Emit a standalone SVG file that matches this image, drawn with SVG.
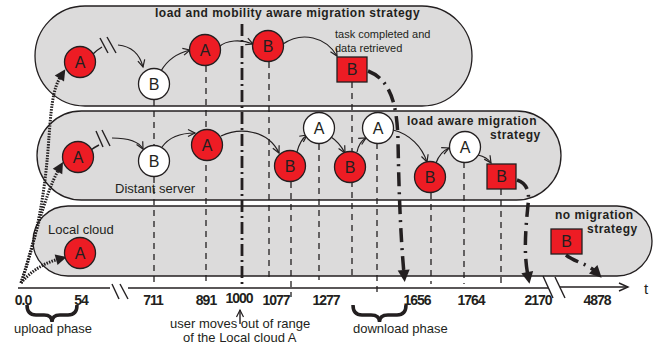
<svg xmlns="http://www.w3.org/2000/svg" width="656" height="344" viewBox="0 0 656 344">
<defs>
<style>
.band{fill:#dcdbdb;stroke:#231f20;stroke-width:1.3}
.red{fill:#ed1c24;stroke:#231f20;stroke-width:1.3}
.wht{fill:#ffffff;stroke:#231f20;stroke-width:1.3}
.lbl{font-family:"Liberation Sans",Arial,sans-serif;font-size:16px;fill:#231f20;text-anchor:middle}
.txt{font-family:"Liberation Sans",Arial,sans-serif;font-size:13px;fill:#231f20}
.sm{font-size:11px}
.ttl{font-family:"Liberation Sans",Arial,sans-serif;font-size:12px;font-weight:bold;letter-spacing:0.5px;fill:#231f20}
.ax{font-family:"Liberation Sans",Arial,sans-serif;font-size:14px;font-weight:bold;letter-spacing:-1px;fill:#231f20;text-anchor:middle}
.vd{stroke:#231f20;stroke-width:1.3;stroke-dasharray:6 5;fill:none}
.con{stroke:#231f20;stroke-width:1.2;fill:none;marker-end:url(#open)}
.thick{stroke:#231f20;stroke-width:3.5;fill:none;stroke-dasharray:14 6 2 6;marker-end:url(#tri)}
.dot{stroke:#231f20;stroke-width:3;fill:none;stroke-dasharray:1.5 1.2;marker-end:url(#tri2)}
.brace{stroke:#231f20;stroke-width:3.5;fill:none}
.line{stroke:#231f20;stroke-width:1.4;fill:none}
</style>
<marker id="open" markerUnits="userSpaceOnUse" markerWidth="10" markerHeight="10" refX="7" refY="3.5" orient="auto" overflow="visible">
<path d="M0,0 L7,3.5 L0,7" fill="none" stroke="#231f20" stroke-width="1.2"/>
</marker>
<marker id="tri" markerUnits="userSpaceOnUse" markerWidth="14" markerHeight="14" refX="4" refY="6" orient="auto" overflow="visible">
<path d="M0,0 L12,6 L0,12 Z" fill="#231f20"/>
</marker>
<marker id="tri2" markerUnits="userSpaceOnUse" markerWidth="14" markerHeight="14" refX="3" refY="5.5" orient="auto" overflow="visible">
<path d="M0,0 L11,5.5 L0,11 Z" fill="#231f20"/>
</marker>
<marker id="axarr" markerUnits="userSpaceOnUse" markerWidth="10" markerHeight="10" refX="9" refY="4" orient="auto" overflow="visible">
<path d="M0,0 L9,4 L0,8" fill="none" stroke="#231f20" stroke-width="1.4"/>
</marker>
</defs>

<g id="bands">
<rect id="band-top" class="band" x="35" y="6" width="437" height="100" rx="50" ry="50"/>
<rect id="band-mid" class="band" x="37" y="111" width="524" height="89" rx="44.5" ry="44.5"/>
<rect id="band-bot" class="band" x="33" y="206" width="619" height="70" rx="35" ry="35"/>
</g>

<g id="guides">
<line class="vd" x1="154" y1="100" x2="154" y2="284"/>
<line class="vd" x1="206" y1="66" x2="206" y2="284"/>
<line class="vd" x1="269" y1="62" x2="269" y2="280"/>
<line class="vd" x1="291" y1="182" x2="291" y2="297"/>
<line class="vd" x1="319" y1="144" x2="319" y2="280"/>
<line class="vd" x1="352" y1="82" x2="352" y2="280"/>
<line class="vd" x1="377" y1="143" x2="377" y2="297"/>
<line class="vd" x1="431" y1="193" x2="431" y2="284"/>
<line class="vd" x1="464" y1="162" x2="464" y2="284"/>
<line class="vd" x1="501" y1="189" x2="501" y2="284"/>
<line stroke="#231f20" stroke-width="2.8" stroke-dasharray="12 4 2 4" x1="242" y1="24" x2="242" y2="287"/>
</g>

<g id="axis">
<line class="line" x1="18" y1="288" x2="110" y2="288"/>
<line class="line" x1="112" y1="284" x2="119" y2="299"/>
<line class="line" x1="120" y1="284" x2="128" y2="299"/>
<line class="line" x1="128" y1="288" x2="548" y2="288"/>
<line class="line" x1="543" y1="276" x2="553" y2="298"/>
<line class="line" x1="555" y1="277" x2="565" y2="298"/>
<line class="line" x1="560" y1="287" x2="628" y2="287" marker-end="url(#axarr)"/>
<text x="646" y="294" class="txt" style="font-size:15px" text-anchor="middle">t</text>
<text class="ax" x="23" y="305">0.0</text>
<text class="ax" x="81" y="305">54</text>
<text class="ax" x="153" y="305">711</text>
<text class="ax" x="206" y="305">891</text>
<text class="ax" x="239" y="303">1000</text>
<text class="ax" x="276" y="305">1077</text>
<text class="ax" x="326" y="305">1277</text>
<text class="ax" x="417" y="305">1656</text>
<text class="ax" x="471" y="305">1764</text>
<text class="ax" x="538" y="305">2170</text>
<text class="ax" x="597" y="305">4878</text>
</g>

<g id="connectors">
<path class="line" d="M93,54 Q97,50 102,47"/>
<line class="line" x1="100" y1="38" x2="108" y2="53"/>
<line class="line" x1="107" y1="37" x2="116" y2="53"/>
<path class="con" d="M118,45 Q138,47 143,67"/>
<path class="con" d="M161,71 Q170,55 190,50"/>
<path class="con" d="M219,47 C226,40 241,39 253,44"/>
<path class="con" d="M283,44 C302,31 326,37 337,56"/>
<path class="thick" d="M368,71 C391,80 397,105 398,140 C399,200 401,240 404,274"/>
<path class="line" d="M91,150 Q95,147 99,145"/>
<line class="line" x1="96" y1="131" x2="103" y2="147"/>
<line class="line" x1="102" y1="130" x2="110" y2="146"/>
<path class="con" d="M112,138 Q137,138 143,149"/>
<path class="con" d="M162,147 Q172,133 195,133"/>
<path class="con" d="M221,136 C240,127 268,130 279,153"/>
<path class="con" d="M297,152 Q300,140 307,135"/>
<path class="con" d="M331,137 Q339,142 345,153"/>
<path class="con" d="M357,152 Q359,142 366,138"/>
<path class="con" d="M393,130 C410,134 422,147 427,162"/>
<path class="con" d="M436,163 Q440,152 449,148"/>
<path class="con" d="M478,155 Q487,157 491,163"/>
<path class="thick" d="M517,180 C526,183 530,190 528,205 C525,235 524,255 528,276"/>
<path class="thick" d="M566,255 C575,262 588,264 596,272"/>
<path class="dot" d="M21,283 C36,240 44,200 48,150 C51,110 52,90 61,76"/>
<path class="dot" d="M21,283 C32,250 44,195 59,169"/>
<path class="dot" d="M21,283 C31,271 44,263 59,259"/>
<line class="line" x1="240" y1="324" x2="240" y2="310" stroke-width="1.2" marker-end="url(#open)"/>
</g>

<g id="node-top-A"><circle class="red" cx="80" cy="62" r="15.5"/><text class="lbl" x="80" y="68">A</text></g>
<g id="node-top-B1"><circle class="wht" cx="154" cy="84" r="15.5"/><text class="lbl" x="154" y="90">B</text></g>
<g id="node-top-A2"><circle class="red" cx="205" cy="50" r="15.5"/><text class="lbl" x="205" y="56">A</text></g>
<g id="node-top-B2"><circle class="red" cx="268" cy="46" r="15.5"/><text class="lbl" x="268" y="52">B</text></g>
<g id="node-top-Bsq"><rect class="red" x="337" y="57" width="30" height="25"/><text class="lbl" x="352" y="75">B</text></g>

<g id="node-mid-A"><circle class="red" cx="78" cy="157" r="15.5"/><text class="lbl" x="78" y="163">A</text></g>
<g id="node-mid-B1"><circle class="wht" cx="154" cy="161" r="15.5"/><text class="lbl" x="154" y="167">B</text></g>
<g id="node-mid-A2"><circle class="red" cx="207" cy="145" r="15.5"/><text class="lbl" x="207" y="151">A</text></g>
<g id="node-mid-B2"><circle class="red" cx="290" cy="166" r="15.5"/><text class="lbl" x="290" y="172">B</text></g>
<g id="node-mid-A3"><circle class="wht" cx="319" cy="128" r="15.5"/><text class="lbl" x="319" y="134">A</text></g>
<g id="node-mid-B3"><circle class="red" cx="350" cy="167" r="15.5"/><text class="lbl" x="350" y="173">B</text></g>
<g id="node-mid-A4"><circle class="wht" cx="378" cy="128" r="15.5"/><text class="lbl" x="378" y="134">A</text></g>
<g id="node-mid-B4"><circle class="red" cx="430" cy="177" r="15.5"/><text class="lbl" x="430" y="183">B</text></g>
<g id="node-mid-A5"><circle class="wht" cx="465" cy="147" r="15.5"/><text class="lbl" x="465" y="153">A</text></g>
<g id="node-mid-Bsq"><rect class="red" x="487" y="164" width="29" height="25"/><text class="lbl" x="501.5" y="182">B</text></g>

<g id="node-bot-A"><circle class="red" cx="80" cy="253" r="15.5"/><text class="lbl" x="80" y="259">A</text></g>
<g id="node-bot-Bsq"><rect class="red" x="551" y="229" width="31" height="25"/><text class="lbl" x="566.5" y="247">B</text></g>

<g id="labels">
<text class="ttl" x="155" y="17">load and mobility aware migration strategy</text>
<text class="txt sm" x="335" y="38">task completed and</text>
<text class="txt sm" x="335" y="52">data retrieved</text>
<text class="ttl" x="407" y="125">load aware migration</text>
<text class="ttl" x="490" y="139">strategy</text>
<text class="txt" x="115" y="193">Distant server</text>
<text class="txt" x="48" y="234">Local cloud</text>
<text class="ttl" x="555" y="219">no migration</text>
<text class="ttl" x="587" y="233">strategy</text>
<text class="txt" x="170" y="328">user moves out of range</text>
<text class="txt" x="183" y="342">of the Local cloud A</text>
<text class="txt" x="14" y="333">upload phase</text>
<text class="txt" x="353" y="333">download phase</text>
</g>

<g id="braces">
<path class="brace" d="M27,305 Q27,315 36,315 L44,315 Q52,315 52,322 Q52,315 60,315 L68,315 Q77,315 77,305"/>
<path class="brace" d="M353,305 Q353,315 362,315 L371,315 Q379.5,315 379.5,322 Q379.5,315 388,315 L397,315 Q406,315 406,305"/>
</g>
</svg>
